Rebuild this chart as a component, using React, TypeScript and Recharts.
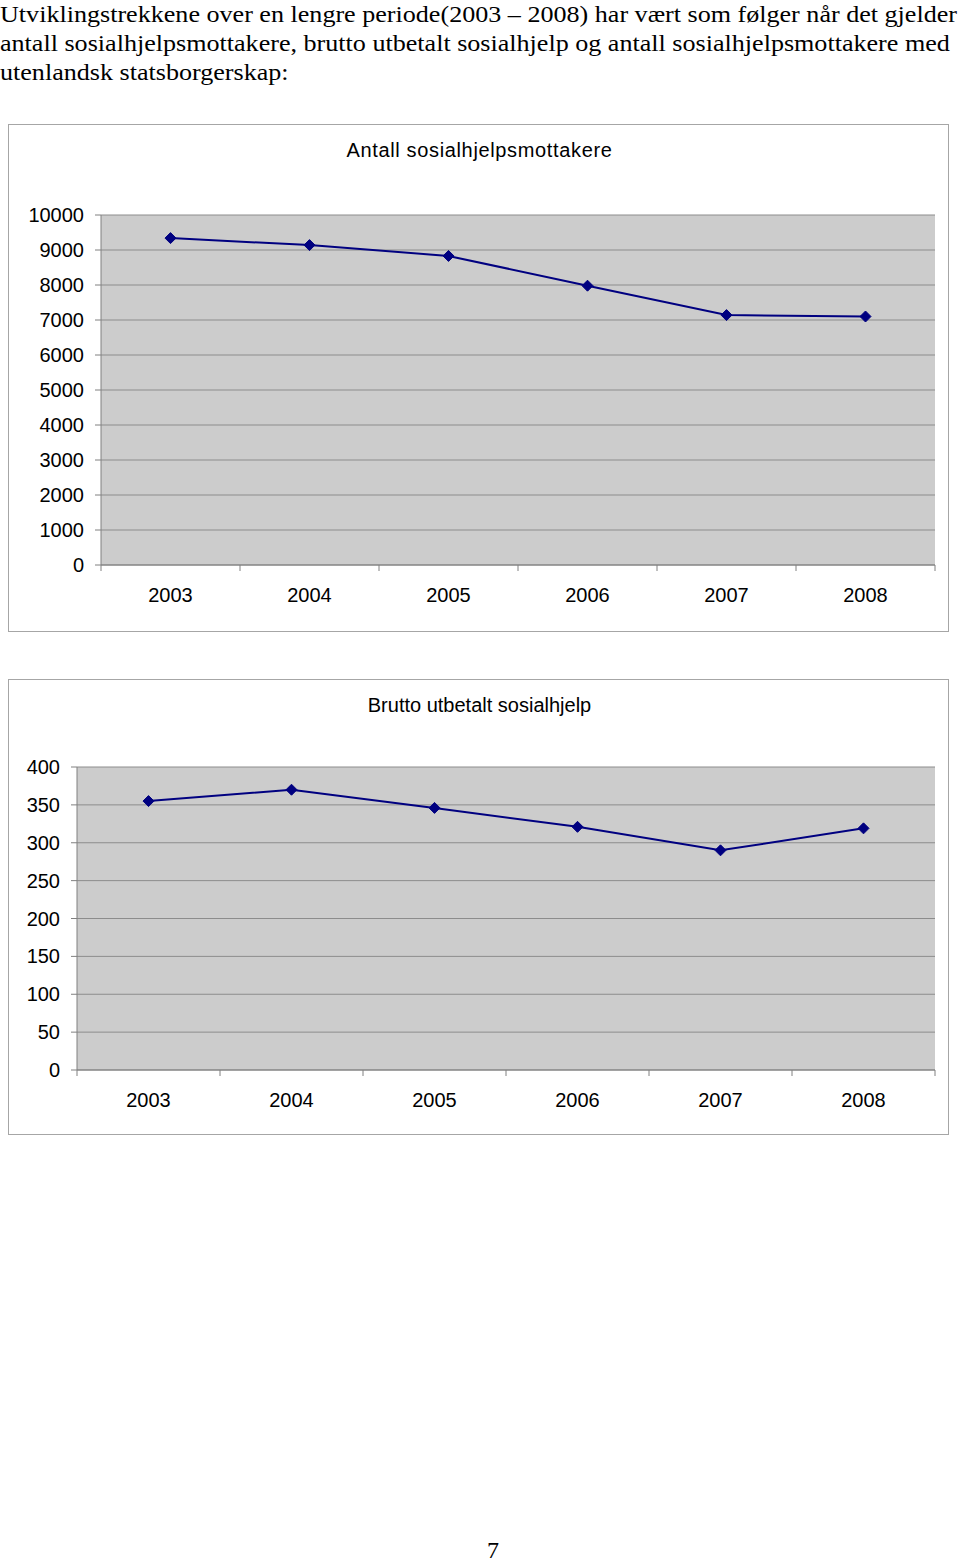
import React from 'react';
import { LineChart, Line, XAxis, YAxis, CartesianGrid } from 'recharts';

const years = ['2003', '2004', '2005', '2006', '2007', '2008'];
const mottakere = [9340, 9140, 8830, 7980, 7140, 7100];
const brutto = [355, 370, 346, 321, 290, 319];
const mottakereTicks = [0, 1000, 2000, 3000, 4000, 5000, 6000, 7000, 8000, 9000, 10000];
const bruttoTicks = [0, 50, 100, 150, 200, 250, 300, 350, 400];

const introLines = [
    'Utviklingstrekkene over en lengre periode(2003 \u2013 2008) har vært som følger når det gjelder',
    'antall sosialhjelpsmottakere, brutto utbetalt sosialhjelp og antall sosialhjelpsmottakere med',
    'utenlandsk statsborgerskap:',
];

const FONT = '"Liberation Sans", Arial, sans-serif';
const SERIF = '"Liberation Serif", "Times New Roman", serif';
const NAVY = '#000080';
const TICK_SIZE = 6;
const TICK_MARGIN = 17;

const Diamond = (props: any) => {
    const { cx, cy } = props;
    if (cx == null || cy == null) return null;
    const r = 5.5;
    return <polygon points={`${cx},${cy - r} ${cx + r},${cy} ${cx},${cy + r} ${cx - r},${cy}`} fill={NAVY} stroke={NAVY} />;
};

const CategoryTick = (props: any) => {
    const { x, y, payload, index, visibleTicksCount } = props;
    const half = payload?.offset ?? 0;
    const axisY = y - TICK_SIZE - TICK_MARGIN;
    const last = index === visibleTicksCount - 1;
    return (
        <g>
            <line x1={x - half} x2={x - half} y1={axisY} y2={axisY + TICK_SIZE} stroke="#808080" />
            {last && <line x1={x + half} x2={x + half} y1={axisY} y2={axisY + TICK_SIZE} stroke="#808080" />}
            <text x={x} y={y} dy="0.71em" textAnchor="middle" fill="#000" fontSize={20} fontFamily={FONT}>
                {payload.value}
            </text>
        </g>
    );
};

type PanelProps = {
    title: string;
    titleSpacing: number;
    values: number[];
    ticks: number[];
    top: number;
    height: number;
    yWidth: number;
    plotTop: number;
    plotBottom: number;
};

const Panel = ({ title, titleSpacing, values, ticks, top, height, yWidth, plotTop, plotBottom }: PanelProps) => {
    const data = years.map((year, i) => ({ year, value: values[i] }));
    const inner = height - 2;
    return (
        <div
            style={{
                position: 'absolute',
                left: 8,
                top,
                width: 939,
                height: inner,
                border: '1px solid #a6a6a6',
                background: '#fff',
            }}
        >
            <div
                style={{
                    position: 'absolute',
                    left: 1,
                    top: 14,
                    width: 939,
                    textAlign: 'center',
                    fontFamily: FONT,
                    fontSize: 20,
                    letterSpacing: titleSpacing,
                    color: '#000',
                }}
            >
                {title}
            </div>
            <LineChart
                width={939}
                height={inner}
                data={data}
                margin={{ top: plotTop, right: 13, bottom: inner - plotBottom - 40, left: 0 }}
            >
                <CartesianGrid vertical={false} fill="#cccccc" stroke="#8c8c8c" />
                <XAxis
                    dataKey="year"
                    scale="band"
                    height={40}
                    tickSize={TICK_SIZE}
                    tickMargin={TICK_MARGIN}
                    tickLine={false}
                    axisLine={{ stroke: '#808080' }}
                    tick={<CategoryTick />}
                    interval={0}
                />
                <XAxis
                    xAxisId="top"
                    orientation="top"
                    dataKey="year"
                    scale="band"
                    height={0}
                    tick={false}
                    tickLine={false}
                    axisLine={{ stroke: '#808080' }}
                />
                <YAxis
                    domain={[ticks[0], ticks[ticks.length - 1]]}
                    ticks={ticks}
                    interval={0}
                    width={yWidth}
                    tickSize={TICK_SIZE}
                    tickMargin={11}
                    tickLine={{ stroke: '#808080' }}
                    axisLine={{ stroke: '#808080' }}
                    tick={{ fill: '#000', fontSize: 20, fontFamily: FONT }}
                />
                <YAxis
                    yAxisId="right"
                    orientation="right"
                    width={0}
                    tick={false}
                    tickLine={false}
                    axisLine={{ stroke: '#808080' }}
                />
                <Line
                    dataKey="value"
                    stroke={NAVY}
                    strokeWidth={2}
                    dot={<Diamond />}
                    activeDot={false}
                    isAnimationActive={false}
                />
            </LineChart>
        </div>
    );
};

export default function App() {
    return (
        <div style={{ position: 'absolute', left: 0, top: 0, width: 960, height: 1561, background: '#fff' }}>
            {introLines.map((line, i) => (
                <div
                    key={i}
                    style={{
                        position: 'absolute',
                        left: 0,
                        top: i * 29,
                        whiteSpace: 'nowrap',
                        fontFamily: SERIF,
                        fontSize: 24,
                        lineHeight: '29px',
                        color: '#000',
                        transform: 'scaleX(1.087)',
                        transformOrigin: 'left top',
                    }}
                >
                    {line}
                </div>
            ))}
            <Panel
                title="Antall sosialhjelpsmottakere"
                titleSpacing={0.65}
                values={mottakere}
                ticks={mottakereTicks}
                top={124}
                height={508}
                yWidth={92}
                plotTop={90}
                plotBottom={440}
            />
            <Panel
                title="Brutto utbetalt sosialhjelp"
                titleSpacing={0}
                values={brutto}
                ticks={bruttoTicks}
                top={679}
                height={456}
                yWidth={68}
                plotTop={87}
                plotBottom={390}
            />
            <div
                style={{
                    position: 'absolute',
                    left: 0,
                    width: 986,
                    top: 1537,
                    textAlign: 'center',
                    fontFamily: SERIF,
                    fontSize: 24,
                    color: '#000',
                }}
            >
                7
            </div>
        </div>
    );
}
